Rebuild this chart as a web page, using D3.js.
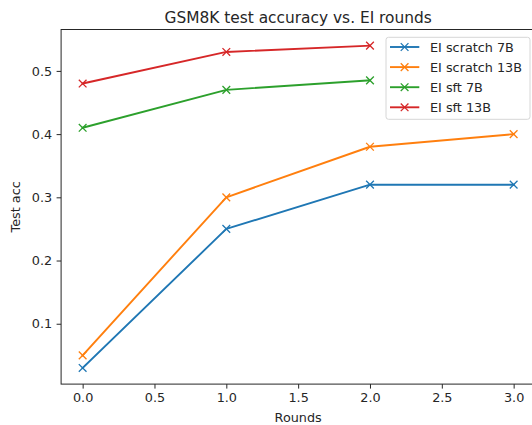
<!DOCTYPE html>
<html>
<head>
<meta charset="utf-8">
<script src="https://cdn.jsdelivr.net/npm/d3@7"></script>
<style>
  html, body { margin: 0; padding: 0; background: #fff; }
  svg { display: block; font-family: "DejaVu Sans", sans-serif; }
</style>
</head>
<body>
<svg id="chart" width="532" height="425"></svg>
<script>
const rounds = [0, 1, 2, 3];
const seriesNames = ["EI scratch 7B", "EI scratch 13B", "EI sft 7B", "EI sft 13B"];
const scratch7B = [0.03, 0.25, 0.32, 0.32];
const scratch13B = [0.05, 0.30, 0.38, 0.40];
const sft7B = [0.41, 0.47, 0.485];
const sft13B = [0.48, 0.53, 0.54];
const seriesColors = ["#1f77b4", "#ff7f0e", "#2ca02c", "#d62728"];
const xTicks = [0.0, 0.5, 1.0, 1.5, 2.0, 2.5, 3.0];
const yTicks = [0.1, 0.2, 0.3, 0.4, 0.5];

(function () {
const seriesValues = [scratch7B, scratch13B, sft7B, sft13B];
const series = seriesNames.map((name, i) => ({
  name, color: seriesColors[i],
  points: seriesValues[i].map((v, j) => ({ x: rounds[j], y: v }))
}));

const svg = d3.select("#chart");
const pLeft = 61.1, pRight = 535.2, pTop = 29.5, pBottom = 384.1;

const allY = seriesValues.flat();
const yMin = d3.min(allY), yMax = d3.max(allY), yPad = (yMax - yMin) * 0.05;
const xMin = d3.min(rounds), xMax = d3.max(rounds), xPad = (xMax - xMin) * 0.05;

const x = d3.scaleLinear().domain([xMin - xPad, xMax + xPad]).range([pLeft, pRight]);
const y = d3.scaleLinear().domain([yMin - yPad, yMax + yPad]).range([pBottom, pTop]);

const fs = 12.8;

const xAxis = svg.append("g").attr("transform", `translate(0,${pBottom})`)
  .call(d3.axisBottom(x).tickValues(xTicks).tickFormat(d3.format(".1f")).tickSizeOuter(0).tickSizeInner(4.5).tickPadding(4.5));
const yAxis = svg.append("g").attr("transform", `translate(${pLeft},0)`)
  .call(d3.axisLeft(y).tickValues(yTicks).tickFormat(d3.format(".1f")).tickSizeOuter(0).tickSizeInner(4.5).tickPadding(4.5));
[xAxis, yAxis].forEach(g => {
  g.select(".domain").remove();
  g.selectAll("text").attr("font-size", fs).attr("font-family", "DejaVu Sans").attr("fill", "#262626");
  g.selectAll("line").attr("stroke", "#262626").attr("stroke-width", 1);
});

const line = d3.line().x(d => x(d.x)).y(d => y(d.y));
const r = 3.85;
series.forEach(s => {
  svg.append("path").datum(s.points).attr("d", line)
    .attr("fill", "none").attr("stroke", s.color).attr("stroke-width", 1.9)
    .attr("stroke-linejoin", "round").attr("stroke-linecap", "square");
  svg.append("g").selectAll("path").data(s.points).join("path")
    .attr("d", d => `M${x(d.x)-r},${y(d.y)-r}L${x(d.x)+r},${y(d.y)+r}M${x(d.x)-r},${y(d.y)+r}L${x(d.x)+r},${y(d.y)-r}`)
    .attr("stroke", s.color).attr("stroke-width", 1.3).attr("fill", "none");
});

svg.append("rect").attr("x", pLeft).attr("y", pTop).attr("width", pRight - pLeft).attr("height", pBottom - pTop)
  .attr("fill", "none").attr("stroke", "#262626").attr("stroke-width", 1);

svg.append("text").attr("x", (pLeft + pRight) / 2).attr("y", 22.5).attr("text-anchor", "middle")
  .attr("font-size", 15.4).attr("fill", "#262626").text("GSM8K test accuracy vs. EI rounds");
svg.append("text").attr("x", (pLeft + pRight) / 2).attr("y", 422).attr("text-anchor", "middle")
  .attr("font-size", fs).attr("fill", "#262626").text("Rounds");
svg.append("text").attr("transform", `translate(20,${(pTop + pBottom) / 2}) rotate(-90)`).attr("text-anchor", "middle")
  .attr("font-size", fs).attr("fill", "#262626").text("Test acc");

const lg = svg.append("g");
lg.append("rect").attr("x", 386).attr("y", 37.3).attr("width", 144).attr("height", 82)
  .attr("rx", 2.5).attr("fill", "#fff").attr("fill-opacity", 0.8).attr("stroke", "#d6d6d6").attr("stroke-width", 1);
series.forEach((s, i) => {
  const yy = 47 + i * 20.1;
  lg.append("line").attr("x1", 390).attr("x2", 419.3).attr("y1", yy).attr("y2", yy)
    .attr("stroke", s.color).attr("stroke-width", 1.9);
  const cx = 404.6;
  lg.append("path").attr("d", `M${cx-r},${yy-r}L${cx+r},${yy+r}M${cx-r},${yy+r}L${cx+r},${yy-r}`)
    .attr("stroke", s.color).attr("stroke-width", 1.3);
  lg.append("text").attr("x", 430).attr("y", yy).attr("dy", "0.36em")
    .attr("font-size", fs).attr("fill", "#262626").text(s.name);
});
})();
</script>
</body>
</html>
